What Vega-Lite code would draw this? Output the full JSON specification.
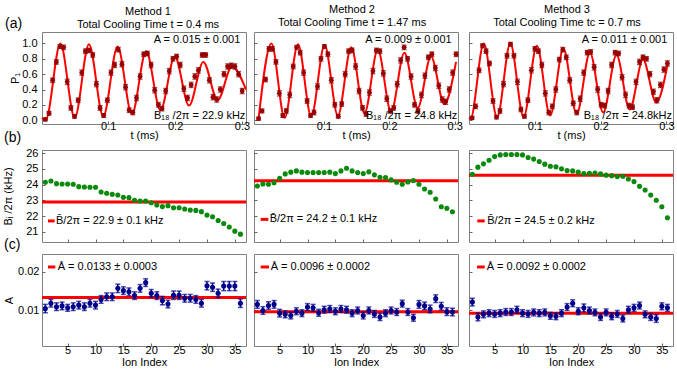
{
"$schema": "https://vega.github.io/schema/vega-lite/v6.json",
"padding": {"left": 2, "top": 3, "right": 2, "bottom": 2},
"config": {
  "font": "Liberation Sans",
  "view": {"stroke": "#808080", "strokeWidth": 1},
  "axis": {"domain": false, "grid": false, "tickSize": -3, "tickColor": "#666666", "labelFontSize": 11, "labelColor": "black", "titleFontSize": 11, "titleFontWeight": "normal", "titleColor": "black", "labelFont": "Liberation Sans", "titleFont": "Liberation Sans", "labelOverlap": false},
  "axisX": {"labelPadding": -1, "titlePadding": -2},
  "axisY": {"labelPadding": 8, "titlePadding": 3},
  "title": {"fontSize": 11, "fontWeight": "normal", "color": "black", "font": "Liberation Sans", "lineHeight": 13, "offset": 4, "frame": "group"},
  "text": {"font": "Liberation Sans", "fontSize": 11, "color": "black"}
},
"datasets": {
  "fit1": [{"t":0.001,"v":0.03},{"t":0.0065,"v":0.0},{"t":0.0285,"v":1.0},{"t":0.0499,"v":0.03},{"t":0.0712,"v":0.99},{"t":0.0926,"v":0.05},{"t":0.114,"v":0.96},{"t":0.1354,"v":0.08},{"t":0.1567,"v":0.9},{"t":0.1781,"v":0.13},{"t":0.1995,"v":0.83},{"t":0.2209,"v":0.19},{"t":0.2422,"v":0.76},{"t":0.2636,"v":0.26},{"t":0.285,"v":0.7},{"t":0.306,"v":0.4}],
  "fit2": [{"t":0.0,"v":0.02},{"t":0.0196,"v":1.0},{"t":0.0399,"v":0.03},{"t":0.0603,"v":0.99},{"t":0.0806,"v":0.05},{"t":0.101,"v":0.98},{"t":0.1213,"v":0.06},{"t":0.1417,"v":0.95},{"t":0.162,"v":0.09},{"t":0.1823,"v":0.92},{"t":0.2027,"v":0.11},{"t":0.223,"v":0.88},{"t":0.2434,"v":0.16},{"t":0.2637,"v":0.83},{"t":0.284,"v":0.21},{"t":0.302,"v":0.76}],
  "fit3": [{"t":0.0,"v":0.03},{"t":0.0023,"v":0.02},{"t":0.0225,"v":1.0},{"t":0.0427,"v":0.035},{"t":0.0628,"v":1.0},{"t":0.083,"v":0.04},{"t":0.1031,"v":0.97},{"t":0.1233,"v":0.06},{"t":0.1435,"v":0.93},{"t":0.1636,"v":0.08},{"t":0.1838,"v":0.88},{"t":0.2039,"v":0.1},{"t":0.2241,"v":0.85},{"t":0.2442,"v":0.14},{"t":0.2644,"v":0.79},{"t":0.2845,"v":0.23},{"t":0.3025,"v":0.76}],
  "osc1": [{"t":0.006,"v":0.01,"e":0.02},{"t":0.0115,"v":0.09,"e":0.025},{"t":0.0169,"v":0.52,"e":0.03},{"t":0.0224,"v":0.76,"e":0.03},{"t":0.0278,"v":0.96,"e":0.025},{"t":0.0333,"v":0.95,"e":0.03},{"t":0.0387,"v":0.5,"e":0.035},{"t":0.0442,"v":0.16,"e":0.03},{"t":0.0496,"v":0.05,"e":0.025},{"t":0.0551,"v":0.26,"e":0.03},{"t":0.0605,"v":0.62,"e":0.035},{"t":0.066,"v":0.9,"e":0.03},{"t":0.0714,"v":0.91,"e":0.03},{"t":0.0769,"v":0.85,"e":0.03},{"t":0.0823,"v":0.47,"e":0.035},{"t":0.0878,"v":0.16,"e":0.03},{"t":0.0932,"v":0.06,"e":0.025},{"t":0.0987,"v":0.26,"e":0.03},{"t":0.1041,"v":0.62,"e":0.035},{"t":0.1096,"v":0.72,"e":0.035},{"t":0.115,"v":0.92,"e":0.03},{"t":0.1205,"v":0.73,"e":0.035},{"t":0.1259,"v":0.43,"e":0.035},{"t":0.1314,"v":0.13,"e":0.03},{"t":0.1368,"v":0.1,"e":0.03},{"t":0.1423,"v":0.29,"e":0.035},{"t":0.1477,"v":0.57,"e":0.035},{"t":0.1532,"v":0.86,"e":0.03},{"t":0.1586,"v":0.87,"e":0.03},{"t":0.1641,"v":0.72,"e":0.035},{"t":0.1695,"v":0.39,"e":0.035},{"t":0.175,"v":0.2,"e":0.03},{"t":0.1804,"v":0.15,"e":0.03},{"t":0.1859,"v":0.38,"e":0.035},{"t":0.1913,"v":0.64,"e":0.035},{"t":0.1968,"v":0.8,"e":0.03},{"t":0.2022,"v":0.83,"e":0.03},{"t":0.2077,"v":0.72,"e":0.035},{"t":0.2131,"v":0.41,"e":0.035},{"t":0.2186,"v":0.29,"e":0.035},{"t":0.224,"v":0.46,"e":0.035},{"t":0.2295,"v":0.57,"e":0.035},{"t":0.2349,"v":0.65,"e":0.035},{"t":0.2404,"v":0.85,"e":0.03},{"t":0.2458,"v":0.85,"e":0.03},{"t":0.2513,"v":0.52,"e":0.035},{"t":0.2567,"v":0.3,"e":0.035},{"t":0.2622,"v":0.27,"e":0.035},{"t":0.2676,"v":0.4,"e":0.035},{"t":0.2731,"v":0.6,"e":0.035},{"t":0.2785,"v":0.7,"e":0.035},{"t":0.284,"v":0.71,"e":0.035},{"t":0.2894,"v":0.7,"e":0.035},{"t":0.2949,"v":0.6,"e":0.035},{"t":0.3003,"v":0.38,"e":0.035}],
  "osc2": [{"t":0.0,"v":0.02,"e":0.02},{"t":0.0053,"v":0.12,"e":0.025},{"t":0.0106,"v":0.53,"e":0.03},{"t":0.0159,"v":0.93,"e":0.03},{"t":0.0212,"v":0.93,"e":0.03},{"t":0.0265,"v":0.76,"e":0.03},{"t":0.0318,"v":0.35,"e":0.035},{"t":0.0371,"v":0.06,"e":0.025},{"t":0.0424,"v":0.12,"e":0.03},{"t":0.0477,"v":0.33,"e":0.035},{"t":0.053,"v":0.7,"e":0.03},{"t":0.0583,"v":0.95,"e":0.025},{"t":0.0636,"v":0.88,"e":0.03},{"t":0.0689,"v":0.62,"e":0.035},{"t":0.0742,"v":0.25,"e":0.03},{"t":0.0795,"v":0.06,"e":0.025},{"t":0.0848,"v":0.1,"e":0.03},{"t":0.0901,"v":0.44,"e":0.035},{"t":0.0954,"v":0.8,"e":0.03},{"t":0.1007,"v":0.96,"e":0.025},{"t":0.106,"v":0.86,"e":0.03},{"t":0.1113,"v":0.52,"e":0.035},{"t":0.1166,"v":0.2,"e":0.03},{"t":0.1219,"v":0.05,"e":0.025},{"t":0.1272,"v":0.21,"e":0.03},{"t":0.1325,"v":0.6,"e":0.035},{"t":0.1378,"v":0.9,"e":0.03},{"t":0.1431,"v":0.91,"e":0.03},{"t":0.1484,"v":0.7,"e":0.035},{"t":0.1537,"v":0.38,"e":0.035},{"t":0.159,"v":0.16,"e":0.03},{"t":0.1643,"v":0.08,"e":0.03},{"t":0.1696,"v":0.36,"e":0.035},{"t":0.1749,"v":0.64,"e":0.035},{"t":0.1802,"v":0.91,"e":0.03},{"t":0.1855,"v":0.9,"e":0.03},{"t":0.1908,"v":0.61,"e":0.035},{"t":0.1961,"v":0.28,"e":0.035},{"t":0.2014,"v":0.12,"e":0.03},{"t":0.2067,"v":0.16,"e":0.03},{"t":0.212,"v":0.47,"e":0.035},{"t":0.2173,"v":0.78,"e":0.035},{"t":0.2226,"v":0.95,"e":0.03},{"t":0.2279,"v":0.8,"e":0.03},{"t":0.2332,"v":0.57,"e":0.035},{"t":0.2385,"v":0.2,"e":0.03},{"t":0.2438,"v":0.12,"e":0.03},{"t":0.2491,"v":0.33,"e":0.035},{"t":0.2544,"v":0.58,"e":0.035},{"t":0.2597,"v":0.82,"e":0.03},{"t":0.265,"v":0.86,"e":0.03},{"t":0.2703,"v":0.68,"e":0.035},{"t":0.2756,"v":0.45,"e":0.035},{"t":0.2809,"v":0.27,"e":0.035},{"t":0.2862,"v":0.24,"e":0.035},{"t":0.2915,"v":0.4,"e":0.035},{"t":0.2968,"v":0.62,"e":0.035},{"t":0.3021,"v":0.86,"e":0.03}],
  "osc3": [{"t":0.0047,"v":0.03,"e":0.02},{"t":0.01,"v":0.18,"e":0.03},{"t":0.0153,"v":0.65,"e":0.03},{"t":0.0206,"v":0.97,"e":0.025},{"t":0.0259,"v":0.9,"e":0.03},{"t":0.0312,"v":0.74,"e":0.03},{"t":0.0365,"v":0.25,"e":0.03},{"t":0.0418,"v":0.04,"e":0.025},{"t":0.0471,"v":0.12,"e":0.03},{"t":0.0524,"v":0.47,"e":0.035},{"t":0.0577,"v":0.84,"e":0.03},{"t":0.063,"v":0.99,"e":0.025},{"t":0.0683,"v":0.84,"e":0.03},{"t":0.0736,"v":0.5,"e":0.035},{"t":0.0789,"v":0.14,"e":0.03},{"t":0.0842,"v":0.05,"e":0.025},{"t":0.0895,"v":0.26,"e":0.03},{"t":0.0948,"v":0.65,"e":0.035},{"t":0.1001,"v":0.93,"e":0.03},{"t":0.1054,"v":0.9,"e":0.03},{"t":0.1107,"v":0.72,"e":0.035},{"t":0.116,"v":0.35,"e":0.035},{"t":0.1213,"v":0.1,"e":0.03},{"t":0.1266,"v":0.18,"e":0.03},{"t":0.1319,"v":0.4,"e":0.035},{"t":0.1372,"v":0.79,"e":0.03},{"t":0.1425,"v":0.92,"e":0.03},{"t":0.1478,"v":0.82,"e":0.03},{"t":0.1531,"v":0.52,"e":0.035},{"t":0.1584,"v":0.22,"e":0.03},{"t":0.1637,"v":0.1,"e":0.03},{"t":0.169,"v":0.28,"e":0.035},{"t":0.1743,"v":0.62,"e":0.035},{"t":0.1796,"v":0.88,"e":0.03},{"t":0.1849,"v":0.89,"e":0.03},{"t":0.1902,"v":0.69,"e":0.035},{"t":0.1955,"v":0.4,"e":0.035},{"t":0.2008,"v":0.2,"e":0.03},{"t":0.2061,"v":0.19,"e":0.03},{"t":0.2114,"v":0.38,"e":0.035},{"t":0.2167,"v":0.72,"e":0.035},{"t":0.222,"v":0.88,"e":0.03},{"t":0.2273,"v":0.87,"e":0.03},{"t":0.2326,"v":0.56,"e":0.035},{"t":0.2379,"v":0.33,"e":0.035},{"t":0.2432,"v":0.19,"e":0.03},{"t":0.2485,"v":0.17,"e":0.03},{"t":0.2538,"v":0.5,"e":0.035},{"t":0.2591,"v":0.76,"e":0.035},{"t":0.2644,"v":0.82,"e":0.03},{"t":0.2697,"v":0.8,"e":0.03},{"t":0.275,"v":0.6,"e":0.035},{"t":0.2803,"v":0.37,"e":0.035},{"t":0.2856,"v":0.26,"e":0.035},{"t":0.2909,"v":0.46,"e":0.035},{"t":0.2962,"v":0.66,"e":0.035},{"t":0.3015,"v":0.74,"e":0.035}],
  "b1": [{"i":1,"b":24.15},{"i":2,"b":24.23},{"i":3,"b":24.06},{"i":4,"b":24.04},{"i":5,"b":24.04},{"i":6,"b":24.02},{"i":7,"b":23.87},{"i":8,"b":23.85},{"i":9,"b":23.83},{"i":10,"b":23.83},{"i":11,"b":23.53},{"i":12,"b":23.45},{"i":13,"b":23.38},{"i":14,"b":23.34},{"i":15,"b":23.19},{"i":16,"b":23.17},{"i":17,"b":23.0},{"i":18,"b":22.96},{"i":19,"b":22.96},{"i":20,"b":22.85},{"i":21,"b":22.7},{"i":22,"b":22.6},{"i":23,"b":22.66},{"i":24,"b":22.53},{"i":25,"b":22.53},{"i":26,"b":22.45},{"i":27,"b":22.38},{"i":28,"b":22.36},{"i":29,"b":22.28},{"i":30,"b":22.06},{"i":31,"b":21.96},{"i":32,"b":21.72},{"i":33,"b":21.53},{"i":34,"b":21.3},{"i":35,"b":21.04},{"i":36,"b":20.85}],
  "b2": [{"i":1,"b":23.91},{"i":2,"b":24.04},{"i":3,"b":24.02},{"i":4,"b":24.12},{"i":5,"b":24.4},{"i":6,"b":24.68},{"i":7,"b":24.79},{"i":8,"b":24.87},{"i":9,"b":24.79},{"i":10,"b":24.77},{"i":11,"b":24.77},{"i":12,"b":24.77},{"i":13,"b":24.77},{"i":14,"b":24.79},{"i":15,"b":24.7},{"i":16,"b":24.87},{"i":17,"b":25.04},{"i":18,"b":24.87},{"i":19,"b":24.77},{"i":20,"b":24.7},{"i":21,"b":24.81},{"i":22,"b":24.62},{"i":23,"b":24.47},{"i":24,"b":24.45},{"i":25,"b":24.3},{"i":26,"b":24.15},{"i":27,"b":24.02},{"i":28,"b":24.17},{"i":29,"b":24.26},{"i":30,"b":24.02},{"i":31,"b":23.72},{"i":32,"b":23.51},{"i":33,"b":23.08},{"i":34,"b":22.59},{"i":35,"b":22.49},{"i":36,"b":22.27}],
  "b3": [{"i":1,"b":24.66},{"i":2,"b":25.11},{"i":3,"b":25.32},{"i":4,"b":25.55},{"i":5,"b":25.78},{"i":6,"b":25.89},{"i":7,"b":25.91},{"i":8,"b":25.91},{"i":9,"b":25.91},{"i":10,"b":25.89},{"i":11,"b":25.72},{"i":12,"b":25.62},{"i":13,"b":25.47},{"i":14,"b":25.3},{"i":15,"b":25.17},{"i":16,"b":25.13},{"i":17,"b":25.0},{"i":18,"b":24.89},{"i":19,"b":24.87},{"i":20,"b":24.79},{"i":21,"b":24.7},{"i":22,"b":24.72},{"i":23,"b":24.74},{"i":24,"b":24.68},{"i":25,"b":24.6},{"i":26,"b":24.57},{"i":27,"b":24.51},{"i":28,"b":24.53},{"i":29,"b":24.36},{"i":30,"b":24.19},{"i":31,"b":23.89},{"i":32,"b":23.66},{"i":33,"b":23.34},{"i":34,"b":23.0},{"i":35,"b":22.59},{"i":36,"b":21.89}],
  "c1": [{"i":1,"a":0.0104,"e":0.0011},{"i":2,"a":0.0118,"e":0.001},{"i":3,"a":0.0109,"e":0.001},{"i":4,"a":0.0111,"e":0.001},{"i":5,"a":0.0106,"e":0.0009},{"i":6,"a":0.0109,"e":0.001},{"i":7,"a":0.0113,"e":0.001},{"i":8,"a":0.0109,"e":0.001},{"i":9,"a":0.0118,"e":0.001},{"i":10,"a":0.0113,"e":0.001},{"i":11,"a":0.0128,"e":0.001},{"i":12,"a":0.0135,"e":0.001},{"i":13,"a":0.0135,"e":0.001},{"i":14,"a":0.0157,"e":0.0011},{"i":15,"a":0.0151,"e":0.001},{"i":16,"a":0.0148,"e":0.001},{"i":17,"a":0.0138,"e":0.001},{"i":18,"a":0.0157,"e":0.001},{"i":19,"a":0.0172,"e":0.001},{"i":20,"a":0.0144,"e":0.001},{"i":21,"a":0.0138,"e":0.001},{"i":22,"a":0.0125,"e":0.0011},{"i":23,"a":0.0116,"e":0.001},{"i":24,"a":0.0139,"e":0.0011},{"i":25,"a":0.0139,"e":0.0011},{"i":26,"a":0.0131,"e":0.001},{"i":27,"a":0.0131,"e":0.001},{"i":28,"a":0.0128,"e":0.001},{"i":29,"a":0.0118,"e":0.001},{"i":30,"a":0.0164,"e":0.0011},{"i":31,"a":0.016,"e":0.0011},{"i":32,"a":0.0144,"e":0.0011},{"i":33,"a":0.0163,"e":0.0012},{"i":34,"a":0.0163,"e":0.0012},{"i":35,"a":0.0163,"e":0.0012},{"i":36,"a":0.0118,"e":0.0011}],
  "c2": [{"i":1,"a":0.0115,"e":0.001},{"i":2,"a":0.0099,"e":0.001},{"i":3,"a":0.0112,"e":0.001},{"i":4,"a":0.0115,"e":0.001},{"i":5,"a":0.0092,"e":0.001},{"i":6,"a":0.0089,"e":0.0009},{"i":7,"a":0.0086,"e":0.0009},{"i":8,"a":0.0097,"e":0.0009},{"i":9,"a":0.0092,"e":0.0009},{"i":10,"a":0.0108,"e":0.0009},{"i":11,"a":0.0106,"e":0.0009},{"i":12,"a":0.0093,"e":0.0009},{"i":13,"a":0.0101,"e":0.0009},{"i":14,"a":0.0103,"e":0.0009},{"i":15,"a":0.0097,"e":0.0009},{"i":16,"a":0.0103,"e":0.0009},{"i":17,"a":0.0101,"e":0.0009},{"i":18,"a":0.0092,"e":0.0009},{"i":19,"a":0.0099,"e":0.0009},{"i":20,"a":0.0086,"e":0.0009},{"i":21,"a":0.0099,"e":0.0009},{"i":22,"a":0.009,"e":0.0009},{"i":23,"a":0.0082,"e":0.0009},{"i":24,"a":0.0092,"e":0.0009},{"i":25,"a":0.0099,"e":0.0009},{"i":26,"a":0.0095,"e":0.0009},{"i":27,"a":0.0117,"e":0.0009},{"i":28,"a":0.0095,"e":0.0009},{"i":29,"a":0.008,"e":0.0009},{"i":30,"a":0.0115,"e":0.001},{"i":31,"a":0.0111,"e":0.001},{"i":32,"a":0.0103,"e":0.001},{"i":33,"a":0.013,"e":0.001},{"i":34,"a":0.011,"e":0.001},{"i":35,"a":0.0096,"e":0.001},{"i":36,"a":0.0095,"e":0.001}],
  "c3": [{"i":1,"a":0.0121,"e":0.001},{"i":2,"a":0.0082,"e":0.001},{"i":3,"a":0.0089,"e":0.0009},{"i":4,"a":0.0092,"e":0.0009},{"i":5,"a":0.009,"e":0.0009},{"i":6,"a":0.0092,"e":0.0009},{"i":7,"a":0.0095,"e":0.0009},{"i":8,"a":0.0095,"e":0.0009},{"i":9,"a":0.0101,"e":0.0009},{"i":10,"a":0.0092,"e":0.0009},{"i":11,"a":0.009,"e":0.0009},{"i":12,"a":0.0094,"e":0.0009},{"i":13,"a":0.0092,"e":0.0009},{"i":14,"a":0.0094,"e":0.0009},{"i":15,"a":0.0085,"e":0.0009},{"i":16,"a":0.0084,"e":0.0009},{"i":17,"a":0.0092,"e":0.0009},{"i":18,"a":0.0108,"e":0.0009},{"i":19,"a":0.0118,"e":0.0009},{"i":20,"a":0.0097,"e":0.0009},{"i":21,"a":0.0106,"e":0.001},{"i":22,"a":0.0099,"e":0.0009},{"i":23,"a":0.0094,"e":0.0009},{"i":24,"a":0.0082,"e":0.0009},{"i":25,"a":0.0094,"e":0.0009},{"i":26,"a":0.0084,"e":0.0009},{"i":27,"a":0.009,"e":0.0009},{"i":28,"a":0.0078,"e":0.0009},{"i":29,"a":0.0101,"e":0.0009},{"i":30,"a":0.0106,"e":0.0009},{"i":31,"a":0.0112,"e":0.0009},{"i":32,"a":0.0089,"e":0.0009},{"i":33,"a":0.0082,"e":0.0009},{"i":34,"a":0.0078,"e":0.001},{"i":35,"a":0.011,"e":0.0009},{"i":36,"a":0.0106,"e":0.0009}]
},
"columns": 3,
"align": "each",
"spacing": {"row": 0, "column": 1},
"concat": [
  {"width": 204, "height": 92,
   "title": {"text": ["Method 1", "Total Cooling Time t  = 0.4 ms"], "dx": 4, "offset": -13},
   "layer": [
    {"data": {"name": "fit1"}, "mark": {"type": "line", "color": "#ff0000", "strokeWidth": 2, "interpolate": "monotone"},
     "encoding": {"x": {"field": "t", "type": "quantitative", "title": "t (ms)", "scale": {"domain": [0.001, 0.306], "nice": false, "zero": false}, "axis": {"values": [0.1, 0.2, 0.3], "tickCount": 20, "format": ".1f", "labelOverlap": false}},
                  "y": {"field": "v", "type": "quantitative", "title": "P₁", "scale": {"domain": [-0.05, 1.15], "nice": false, "zero": false}, "axis": {"values": [0, 0.2, 0.4, 0.6, 0.8, 1], "tickCount": 20, "format": ".1f", "titlePadding": 1, "labelOverlap": false}}}},
    {"data": {"name": "osc1"}, "mark": {"type": "errorbar", "ticks": true, "color": "#7a0000", "thickness": 1.2},
     "encoding": {"x": {"field": "t", "type": "quantitative", "title": "t (ms)"}, "y": {"field": "v", "type": "quantitative", "title": "P₁"}, "yError": {"field": "e"}}},
    {"data": {"name": "osc1"}, "mark": {"type": "circle", "size": 24, "color": "#9a0000", "opacity": 1},
     "encoding": {"x": {"field": "t", "type": "quantitative", "title": "t (ms)"}, "y": {"field": "v", "type": "quantitative", "title": "P₁"}}},
    {"data": {"values": [{}]}, "mark": {"type": "text", "align": "right", "baseline": "middle", "text": "A = 0.015 ± 0.001"}, "encoding": {"x": {"datum": 0.2975}, "y": {"datum": 1.05}}},
    {"data": {"values": [{}]}, "mark": {"type": "text", "align": "right", "baseline": "middle", "text": "B₁₈ /2π = 22.9 kHz"}, "encoding": {"x": {"datum": 0.305}, "y": {"datum": 0.058}}},
    {"data": {"values": [{}]}, "mark": {"type": "text", "align": "left", "baseline": "middle", "fontSize": 14, "text": "(a)"}, "encoding": {"x": {"datum": -0.0543}, "y": {"datum": 1.254}}},
    {"data": {"values": [{}]}, "mark": {"type": "text", "align": "left", "baseline": "middle", "fontSize": 14, "text": "(b)"}, "encoding": {"x": {"datum": -0.0558}, "y": {"datum": -0.239}}}
   ]},
  {"width": 204, "height": 92,
   "title": {"text": ["Method 2", "Total Cooling Time t  = 1.47 ms"], "dx": -4},
   "layer": [
    {"data": {"name": "fit2"}, "mark": {"type": "line", "color": "#ff0000", "strokeWidth": 2, "interpolate": "monotone"},
     "encoding": {"x": {"field": "t", "type": "quantitative", "title": "t (ms)", "scale": {"domain": [-0.007, 0.305], "nice": false, "zero": false}, "axis": {"values": [0.1, 0.2, 0.3], "tickCount": 20, "format": ".1f", "labelOverlap": false}},
                  "y": {"field": "v", "type": "quantitative", "title": null, "scale": {"domain": [-0.05, 1.15], "nice": false, "zero": false}, "axis": {"values": [0, 0.2, 0.4, 0.6, 0.8, 1], "tickCount": 20, "labels": false}}}},
    {"data": {"name": "osc2"}, "mark": {"type": "errorbar", "ticks": true, "color": "#7a0000", "thickness": 1.2},
     "encoding": {"x": {"field": "t", "type": "quantitative", "title": "t (ms)"}, "y": {"field": "v", "type": "quantitative", "title": null}, "yError": {"field": "e"}}},
    {"data": {"name": "osc2"}, "mark": {"type": "circle", "size": 24, "color": "#9a0000", "opacity": 1},
     "encoding": {"x": {"field": "t", "type": "quantitative", "title": "t (ms)"}, "y": {"field": "v", "type": "quantitative", "title": null}}},
    {"data": {"values": [{}]}, "mark": {"type": "text", "align": "right", "baseline": "middle", "text": "A = 0.009 ± 0.001"}, "encoding": {"x": {"datum": 0.2954}, "y": {"datum": 1.05}}},
    {"data": {"values": [{}]}, "mark": {"type": "text", "align": "right", "baseline": "middle", "text": "B₁₈ /2π = 24.8 kHz"}, "encoding": {"x": {"datum": 0.304}, "y": {"datum": 0.058}}}
   ]},
  {"width": 204, "height": 92,
   "title": {"text": ["Method 3", "Total Cooling Time tc = 0.7 ms"], "dx": -4},
   "layer": [
    {"data": {"name": "fit3"}, "mark": {"type": "line", "color": "#ff0000", "strokeWidth": 2, "interpolate": "monotone"},
     "encoding": {"x": {"field": "t", "type": "quantitative", "title": "t (ms)", "scale": {"domain": [0, 0.31], "nice": false, "zero": false}, "axis": {"values": [0.1, 0.2, 0.3], "tickCount": 20, "format": ".1f", "labelOverlap": false}},
                  "y": {"field": "v", "type": "quantitative", "title": null, "scale": {"domain": [-0.05, 1.15], "nice": false, "zero": false}, "axis": {"values": [0, 0.2, 0.4, 0.6, 0.8, 1], "tickCount": 20, "labels": false}}}},
    {"data": {"name": "osc3"}, "mark": {"type": "errorbar", "ticks": true, "color": "#7a0000", "thickness": 1.2},
     "encoding": {"x": {"field": "t", "type": "quantitative", "title": "t (ms)"}, "y": {"field": "v", "type": "quantitative", "title": null}, "yError": {"field": "e"}}},
    {"data": {"name": "osc3"}, "mark": {"type": "circle", "size": 24, "color": "#9a0000", "opacity": 1},
     "encoding": {"x": {"field": "t", "type": "quantitative", "title": "t (ms)"}, "y": {"field": "v", "type": "quantitative", "title": null}}},
    {"data": {"values": [{}]}, "mark": {"type": "text", "align": "right", "baseline": "middle", "text": "A = 0.011 ± 0.001"}, "encoding": {"x": {"datum": 0.3014}, "y": {"datum": 1.05}}},
    {"data": {"values": [{}]}, "mark": {"type": "text", "align": "right", "baseline": "middle", "text": "B₁₈ /2π = 24.8kHz"}, "encoding": {"x": {"datum": 0.3085}, "y": {"datum": 0.058}}}
   ]},
  {"width": 204, "height": 92,
   "layer": [
    {"data": {"values": [{}]}, "mark": {"type": "rule", "color": "#ff0000", "strokeWidth": 3},
     "encoding": {"y": {"datum": 22.9, "type": "quantitative", "title": "Bᵢ /2π (kHz)", "scale": {"domain": [20.35, 26.2], "nice": false, "zero": false}, "axis": {"values": [21, 22, 23, 24, 25, 26], "tickCount": 20, "format": "d", "labelPadding": 7, "titlePadding": 12, "labelOverlap": false}}}},
    {"data": {"name": "b1"}, "mark": {"type": "circle", "size": 26, "color": "#0a8a0a", "opacity": 1},
     "encoding": {"x": {"field": "i", "type": "quantitative", "title": null, "scale": {"domain": [0.4, 37], "nice": false, "zero": false}, "axis": {"values": [5, 10, 15, 20, 25, 30, 35], "tickCount": 20, "labels": false}},
                  "y": {"field": "b", "type": "quantitative", "title": "Bᵢ /2π (kHz)"}}},
    {"data": {"values": [{}]}, "mark": {"type": "rule", "color": "#ff0000", "strokeWidth": 3}, "encoding": {"x": {"datum": 1.476}, "x2": {"datum": 2.678}, "y": {"datum": 21.69}}},
    {"data": {"values": [{}]}, "mark": {"type": "text", "align": "left", "baseline": "middle", "text": "B̄/2π = 22.9 ± 0.1 kHz"}, "encoding": {"x": {"datum": 2.91}, "y": {"datum": 21.69}}},
    {"data": {"values": [{}]}, "mark": {"type": "text", "align": "left", "baseline": "middle", "fontSize": 14, "text": "(c)"}, "encoding": {"x": {"datum": -6.42}, "y": {"datum": 20.16}}}
   ]},
  {"width": 204, "height": 92,
   "layer": [
    {"data": {"values": [{}]}, "mark": {"type": "rule", "color": "#ff0000", "strokeWidth": 3},
     "encoding": {"y": {"datum": 24.25, "type": "quantitative", "title": null, "scale": {"domain": [20.35, 26.2], "nice": false, "zero": false}, "axis": {"values": [21, 22, 23, 24, 25, 26], "tickCount": 20, "labels": false}}}},
    {"data": {"name": "b2"}, "mark": {"type": "circle", "size": 26, "color": "#0a8a0a", "opacity": 1},
     "encoding": {"x": {"field": "i", "type": "quantitative", "title": null, "scale": {"domain": [0.4, 37], "nice": false, "zero": false}, "axis": {"values": [5, 10, 15, 20, 25, 30, 35], "tickCount": 20, "labels": false}},
                  "y": {"field": "b", "type": "quantitative", "title": null}}},
    {"data": {"values": [{}]}, "mark": {"type": "rule", "color": "#ff0000", "strokeWidth": 3}, "encoding": {"x": {"datum": 1.6}, "x2": {"datum": 2.97}, "y": {"datum": 21.79}}},
    {"data": {"values": [{}]}, "mark": {"type": "text", "align": "left", "baseline": "middle", "text": "B̄/2π = 24.2 ± 0.1 kHz"}, "encoding": {"x": {"datum": 3.22}, "y": {"datum": 21.79}}}
   ]},
  {"width": 204, "height": 92,
   "layer": [
    {"data": {"values": [{}]}, "mark": {"type": "rule", "color": "#ff0000", "strokeWidth": 3},
     "encoding": {"y": {"datum": 24.6, "type": "quantitative", "title": null, "scale": {"domain": [20.35, 26.2], "nice": false, "zero": false}, "axis": {"values": [21, 22, 23, 24, 25, 26], "tickCount": 20, "labels": false}}}},
    {"data": {"name": "b3"}, "mark": {"type": "circle", "size": 26, "color": "#0a8a0a", "opacity": 1},
     "encoding": {"x": {"field": "i", "type": "quantitative", "title": null, "scale": {"domain": [0.4, 37], "nice": false, "zero": false}, "axis": {"values": [5, 10, 15, 20, 25, 30, 35], "tickCount": 20, "labels": false}},
                  "y": {"field": "b", "type": "quantitative", "title": null}}},
    {"data": {"values": [{}]}, "mark": {"type": "rule", "color": "#ff0000", "strokeWidth": 3}, "encoding": {"x": {"datum": 1.89}, "x2": {"datum": 3.22}, "y": {"datum": 21.69}}},
    {"data": {"values": [{}]}, "mark": {"type": "text", "align": "left", "baseline": "middle", "text": "B̄/2π  = 24.5 ± 0.2 kHz"}, "encoding": {"x": {"datum": 3.68}, "y": {"datum": 21.69}}}
   ]},
  {"width": 204, "height": 92,
   "layer": [
    {"data": {"values": [{}]}, "mark": {"type": "rule", "color": "#ff0000", "strokeWidth": 3},
     "encoding": {"y": {"datum": 0.0133, "type": "quantitative", "title": "A", "scale": {"domain": [0.0006, 0.0247], "nice": false, "zero": false}, "axis": {"values": [0.01, 0.02], "tickCount": 20, "format": ".2f", "labelPadding": 6, "labelOverlap": false}}}},
    {"data": {"name": "c1"}, "mark": {"type": "errorbar", "ticks": true, "color": "#00008b", "thickness": 1.5},
     "encoding": {"x": {"field": "i", "type": "quantitative", "title": "Ion Index", "scale": {"domain": [0.4, 37], "nice": false, "zero": false}, "axis": {"values": [5, 10, 15, 20, 25, 30, 35], "tickCount": 20, "labelPadding": 1, "titlePadding": 1, "labelOverlap": false}},
                  "y": {"field": "a", "type": "quantitative", "title": "A"}, "yError": {"field": "e"}}},
    {"data": {"name": "c1"}, "mark": {"type": "circle", "size": 26, "color": "#00008b", "opacity": 1},
     "encoding": {"x": {"field": "i", "type": "quantitative", "title": "Ion Index"}, "y": {"field": "a", "type": "quantitative", "title": "A"}}},
    {"data": {"values": [{}]}, "mark": {"type": "rule", "color": "#ff0000", "strokeWidth": 3}, "encoding": {"x": {"datum": 1.476}, "x2": {"datum": 2.79}, "y": {"datum": 0.0213}}},
    {"data": {"values": [{}]}, "mark": {"type": "text", "align": "left", "baseline": "middle", "text": "Ā = 0.0133 ± 0.0003"}, "encoding": {"x": {"datum": 3.22}, "y": {"datum": 0.0213}}}
   ]},
  {"width": 204, "height": 92,
   "layer": [
    {"data": {"values": [{}]}, "mark": {"type": "rule", "color": "#ff0000", "strokeWidth": 3},
     "encoding": {"y": {"datum": 0.0096, "type": "quantitative", "title": null, "scale": {"domain": [0.0006, 0.0247], "nice": false, "zero": false}, "axis": {"values": [0.01, 0.02], "tickCount": 20, "labels": false}}}},
    {"data": {"name": "c2"}, "mark": {"type": "errorbar", "ticks": true, "color": "#00008b", "thickness": 1.5},
     "encoding": {"x": {"field": "i", "type": "quantitative", "title": "Ion Index", "scale": {"domain": [0.4, 37], "nice": false, "zero": false}, "axis": {"values": [5, 10, 15, 20, 25, 30, 35], "tickCount": 20, "labelPadding": 1, "titlePadding": 1, "labelOverlap": false}},
                  "y": {"field": "a", "type": "quantitative", "title": null}, "yError": {"field": "e"}}},
    {"data": {"name": "c2"}, "mark": {"type": "circle", "size": 26, "color": "#00008b", "opacity": 1},
     "encoding": {"x": {"field": "i", "type": "quantitative", "title": "Ion Index"}, "y": {"field": "a", "type": "quantitative", "title": null}}},
    {"data": {"values": [{}]}, "mark": {"type": "rule", "color": "#ff0000", "strokeWidth": 3}, "encoding": {"x": {"datum": 1.6}, "x2": {"datum": 3.09}, "y": {"datum": 0.0213}}},
    {"data": {"values": [{}]}, "mark": {"type": "text", "align": "left", "baseline": "middle", "text": "Ā = 0.0096 ± 0.0002"}, "encoding": {"x": {"datum": 3.4}, "y": {"datum": 0.0213}}}
   ]},
  {"width": 204, "height": 92,
   "layer": [
    {"data": {"values": [{}]}, "mark": {"type": "rule", "color": "#ff0000", "strokeWidth": 3},
     "encoding": {"y": {"datum": 0.0092, "type": "quantitative", "title": null, "scale": {"domain": [0.0006, 0.0247], "nice": false, "zero": false}, "axis": {"values": [0.01, 0.02], "tickCount": 20, "labels": false}}}},
    {"data": {"name": "c3"}, "mark": {"type": "errorbar", "ticks": true, "color": "#00008b", "thickness": 1.5},
     "encoding": {"x": {"field": "i", "type": "quantitative", "title": "Ion Index", "scale": {"domain": [0.4, 37], "nice": false, "zero": false}, "axis": {"values": [5, 10, 15, 20, 25, 30, 35], "tickCount": 20, "labelPadding": 1, "titlePadding": 1, "labelOverlap": false}},
                  "y": {"field": "a", "type": "quantitative", "title": null}, "yError": {"field": "e"}}},
    {"data": {"name": "c3"}, "mark": {"type": "circle", "size": 26, "color": "#00008b", "opacity": 1},
     "encoding": {"x": {"field": "i", "type": "quantitative", "title": "Ion Index"}, "y": {"field": "a", "type": "quantitative", "title": null}}},
    {"data": {"values": [{}]}, "mark": {"type": "rule", "color": "#ff0000", "strokeWidth": 3}, "encoding": {"x": {"datum": 1.84}, "x2": {"datum": 3.22}, "y": {"datum": 0.0213}}},
    {"data": {"values": [{}]}, "mark": {"type": "text", "align": "left", "baseline": "middle", "text": "Ā = 0.0092 ± 0.0002"}, "encoding": {"x": {"datum": 3.57}, "y": {"datum": 0.0213}}}
   ]}
]
}
